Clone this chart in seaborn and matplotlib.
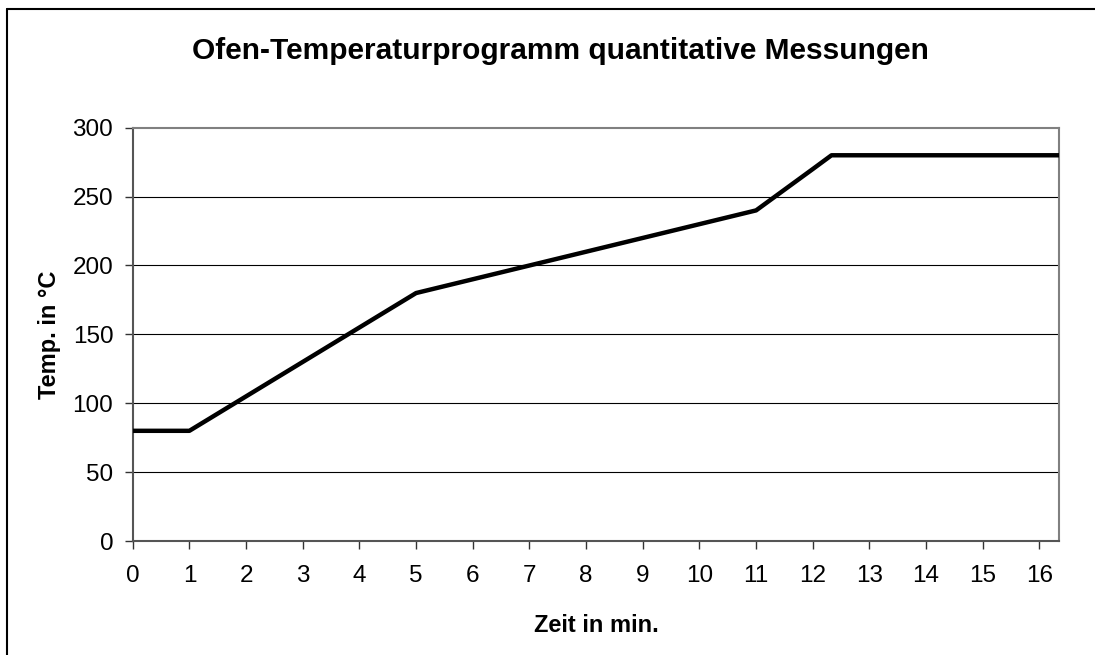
import matplotlib
matplotlib.use("Agg")
import matplotlib.pyplot as plt
import pandas as pd
import seaborn as sns

# oven temperature program (time in min, temperature in °C)
zeit = [0, 1, 2, 3, 4, 5, 6, 7, 8, 9, 10, 11, 12, 12.33, 13, 14, 15, 16, 16.35]
temp = [80, 80, 105, 130, 155, 180, 190, 200, 210, 220, 230, 240, 270, 280, 280, 280, 280, 280, 280]
x_ticks = list(range(0, 17))
y_ticks = [0, 50, 100, 150, 200, 250, 300]

df = pd.DataFrame({"Zeit": zeit, "Temp": temp})

sns.set_style("white")
plt.rcParams["font.family"] = ["Liberation Sans", "DejaVu Sans"]
plt.rcParams["text.color"] = "black"
plt.rcParams["axes.labelcolor"] = "black"
plt.rcParams["xtick.color"] = "black"
plt.rcParams["ytick.color"] = "black"

fig = plt.figure(figsize=(10.95, 6.55), dpi=100)
ax = fig.add_axes([0.1212, 0.174, 0.8462, 0.631])

for y in y_ticks[1:-1]:
    ax.axhline(y, color="black", linewidth=0.8, zorder=1)

sns.lineplot(data=df, x="Zeit", y="Temp", color="black", linewidth=3.2,
             ax=ax, zorder=3, sort=False)

ax.set_xlim(0, 16.35)
ax.set_ylim(0, 300)
ax.set_xticks(x_ticks)
ax.set_yticks(y_ticks)
ax.tick_params(axis="both", direction="out", length=6, width=1, color="#333333",
               labelcolor="black", labelsize=17.5, left=True, bottom=True)
ax.tick_params(axis="x", pad=11)
ax.tick_params(axis="y", pad=8)

for side in ["top", "right"]:
    ax.spines[side].set_color("#808080")
    ax.spines[side].set_linewidth(1.5)
for side in ["left", "bottom"]:
    ax.spines[side].set_color("#555555")
    ax.spines[side].set_linewidth(1.5)

ax.set_xlabel("Zeit in min.", fontsize=17, fontweight="bold", labelpad=20)
ax.set_ylabel("Temp. in °C", fontsize=17, fontweight="bold", labelpad=8)
fig.suptitle("Ofen-Temperaturprogramm quantitative Messungen", fontsize=21.5,
             fontweight="bold", x=0.512, y=0.943)

# outer chart border (top and left visible as in the screenshot)
fig.add_artist(plt.Line2D([0.006, 0.006], [0.0, 0.987], color="black", linewidth=1.5,
                          transform=fig.transFigure))
fig.add_artist(plt.Line2D([0.006, 1.0], [0.987, 0.987], color="black", linewidth=1.5,
                          transform=fig.transFigure))

fig.savefig("out.png", dpi=100)
